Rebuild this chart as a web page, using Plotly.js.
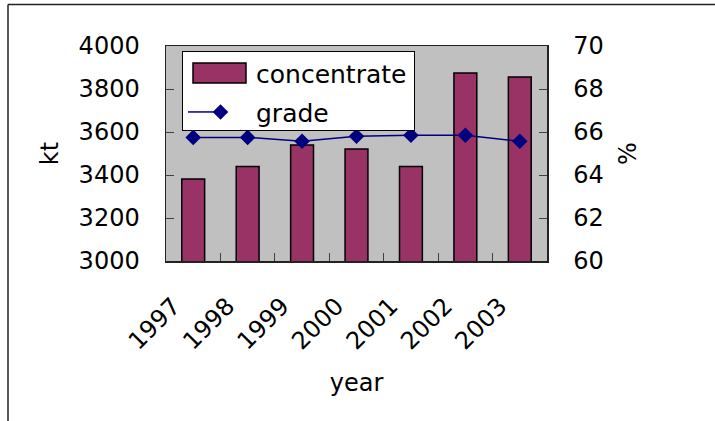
<!DOCTYPE html>
<html>
<head>
<meta charset="utf-8">
<script src="https://cdn.plot.ly/plotly-3.0.1.min.js"></script>
<style>
  html, body { margin: 0; padding: 0; background: #ffffff; overflow: hidden; width: 715px; height: 421px; }
  #chart { position: absolute; left: 0; top: 0; width: 715px; height: 421px; overflow: hidden; }
</style>
</head>
<body>
<div id="chart"></div>
<script>
// Iron ore concentrate output (kt) and grade (%) by year
const years = ['1997', '1998', '1999', '2000', '2001', '2002', '2003'];
const concentrate = [3381, 3439, 3540, 3521, 3439, 3874, 3856];
const grade = [65.75, 65.75, 65.57, 65.8, 65.85, 65.85, 65.57];

const leftTicks = [3000, 3200, 3400, 3600, 3800, 4000];
const rightTicks = [60, 62, 64, 66, 68, 70];

const FONT = 'DejaVu Sans, Liberation Sans, Arial, sans-serif';

const traces = [
  {
    type: 'bar',
    name: 'concentrate',
    x: years,
    y: concentrate,
    marker: { color: '#993366', line: { color: '#000000', width: 1.5 } },
    yaxis: 'y'
  },
  {
    type: 'scatter',
    mode: 'lines+markers',
    name: 'grade',
    x: years,
    y: grade,
    line: { color: '#000080', width: 1.5 },
    marker: { symbol: 'diamond', size: 12, color: '#000080' },
    yaxis: 'y2'
  }
];

const axisLine = '#222222';
const frameLine = { color: '#222222', width: 1.5 };

const layout = {
  width: 715,
  height: 421,
  margin: { l: 166, r: 168, t: 46, b: 160, pad: 0 },
  paper_bgcolor: '#ffffff',
  plot_bgcolor: '#c0c0c0',
  font: { family: FONT, size: 24, color: '#000000' },
  bargap: 0.58,
  showlegend: true,
  legend: {
    x: 0.042, y: 0.977, xanchor: 'left', yanchor: 'top',
    bgcolor: '#ffffff', bordercolor: '#000000', borderwidth: 1,
    font: { family: FONT, size: 25, color: '#000000' },
    traceorder: 'normal'
  },
  xaxis: {
    type: 'category',
    title: { text: 'year', font: { family: FONT, size: 24 }, standoff: 20 },
    tickangle: -45,
    tickson: 'boundaries',
    ticks: 'inside', ticklen: 8, tickcolor: '#404040', tickwidth: 1,
    showline: true, linecolor: axisLine, linewidth: 1.5, mirror: true,
    showgrid: false, zeroline: false,
    ticklabelstandoff: 20,
    ticklabelshift: -20,
    tickfont: { family: FONT, size: 24 }
  },
  yaxis: {
    range: [3000, 4000],
    tickvals: leftTicks,
    ticktext: leftTicks.map(String),
    title: { text: 'kt', font: { family: FONT, size: 24 }, standoff: 13 },
    ticks: 'inside', ticklen: 8, tickcolor: '#404040', tickwidth: 1,
    showline: true, linecolor: axisLine, linewidth: 1.5,
    showgrid: false, zeroline: false,
    ticklabelstandoff: 20,
    tickfont: { family: FONT, size: 24 }
  },
  yaxis2: {
    range: [60, 70],
    tickvals: rightTicks,
    ticktext: rightTicks.map(String),
    overlaying: 'y',
    side: 'right',
    title: { text: '%', font: { family: FONT, size: 24 }, standoff: 16 },
    ticks: 'inside', ticklen: 8, tickcolor: '#404040', tickwidth: 1,
    showline: true, linecolor: axisLine, linewidth: 1.5,
    showgrid: false, zeroline: false,
    ticklabelstandoff: 20,
    tickfont: { family: FONT, size: 24 }
  },
  // Outer chart frame: left and top edges of the surrounding box
  shapes: [
    { type: 'line', xref: 'paper', yref: 'paper', x0: -0.4147, x1: -0.4147, y0: -0.9, y1: 1.193, line: frameLine, layer: 'below' },
    { type: 'line', xref: 'paper', yref: 'paper', x0: -0.4147, x1: 1.45, y0: 1.193, y1: 1.193, line: frameLine, layer: 'below' }
  ]
};

// Widen the legend keys: long bar swatch and long line sample, text pushed right
function styleLegend(gd) {
  const leg = gd.querySelector('.legend');
  if (!leg) return;
  const items = leg.querySelectorAll('.traces');
  const rowY = [22, 61];
  items.forEach((item, i) => {
    const m = /translate\(([-\d.]+),\s*([-\d.]+)\)/.exec(item.getAttribute('transform') || '');
    const tx = m ? parseFloat(m[1]) : 0;
    item.setAttribute('transform', 'translate(' + tx + ',' + rowY[i] + ')');
    const txt = item.querySelector('text.legendtext');
    if (txt) txt.setAttribute('x', 73);
    const pts = item.querySelector('.legendpoints');
    if (!pts) return;
    if (i === 0) {
      pts.querySelectorAll('path').forEach(p => {
        p.setAttribute('d', 'M10,-10H63V10H10Z');
        p.setAttribute('transform', '');
      });
    } else {
      const line = pts.querySelector('path.js-line');
      if (line) line.setAttribute('d', 'M10,0h55');
      pts.querySelectorAll('path.scatterpts').forEach(p => {
        p.setAttribute('transform', 'translate(37.5,0)');
      });
    }
  });
  const bg = leg.querySelector('rect.bg');
  if (bg) { bg.setAttribute('width', 232); bg.setAttribute('height', 79); }
  const sb = leg.querySelector('.scrollbox');
  if (sb) sb.removeAttribute('clip-path');
  leg.removeAttribute('clip-path');
}

Plotly.newPlot('chart', traces, layout, { displayModeBar: false, staticPlot: true })
  .then(styleLegend);
</script>
</body>
</html>
